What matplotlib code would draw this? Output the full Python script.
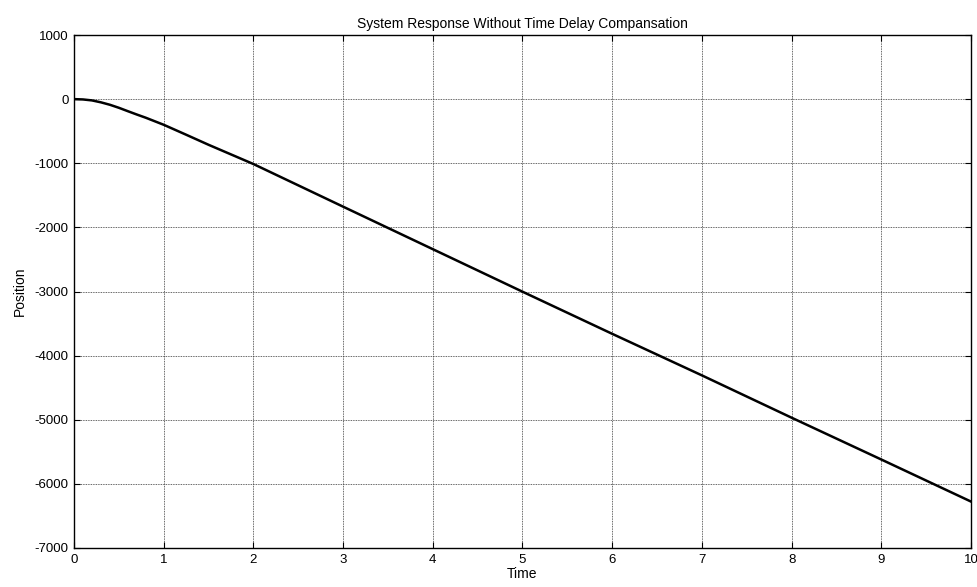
import numpy as np
import matplotlib
matplotlib.use("Agg")
import matplotlib.pyplot as plt

# values
time = [0, 0.1, 0.2, 0.3, 0.4, 0.5, 0.6, 0.7, 0.8, 0.9, 1.0, 1.25, 1.5, 1.75,
        2, 3, 4, 5, 6, 7, 8, 9, 10]
position = [0, -5, -20, -50, -88, -135, -188, -240, -290, -345, -400, -555, -712, -862,
            -1012, -1677, -2340, -3003, -3660, -4308, -4968, -5620, -6276]

x_ticks = list(range(0, 11))
y_ticks = list(range(-7000, 1001, 1000))

plt.rcParams['font.family'] = ['Liberation Sans', 'DejaVu Sans']
plt.rcParams['axes.unicode_minus'] = False

fig = plt.figure(figsize=(9.78, 5.87), dpi=100)
ax = fig.add_axes([74 / 978, 1 - 548 / 587, (971 - 74) / 978, (548 - 35) / 587])

ax.plot(time, position, color='black', linewidth=1.8)

ax.set_xlim(0, 10)
ax.set_ylim(-7000, 1000)
ax.set_xticks(x_ticks)
ax.set_yticks(y_ticks)
ax.tick_params(direction='in', length=4, width=0.8, labelsize=9.5, top=True, right=True, pad=4)
ax.grid(True, color='#333333', linestyle=(0, (1, 1)), linewidth=0.6)
for s in ax.spines.values():
    s.set_linewidth(1.0)

ax.set_title('System Response Without Time Delay Compansation', fontsize=10, pad=5)
ax.set_xlabel('Time', fontsize=10, labelpad=1)
ax.set_ylabel('Position', fontsize=10, labelpad=5)

fig.savefig('out.png', dpi=100)
